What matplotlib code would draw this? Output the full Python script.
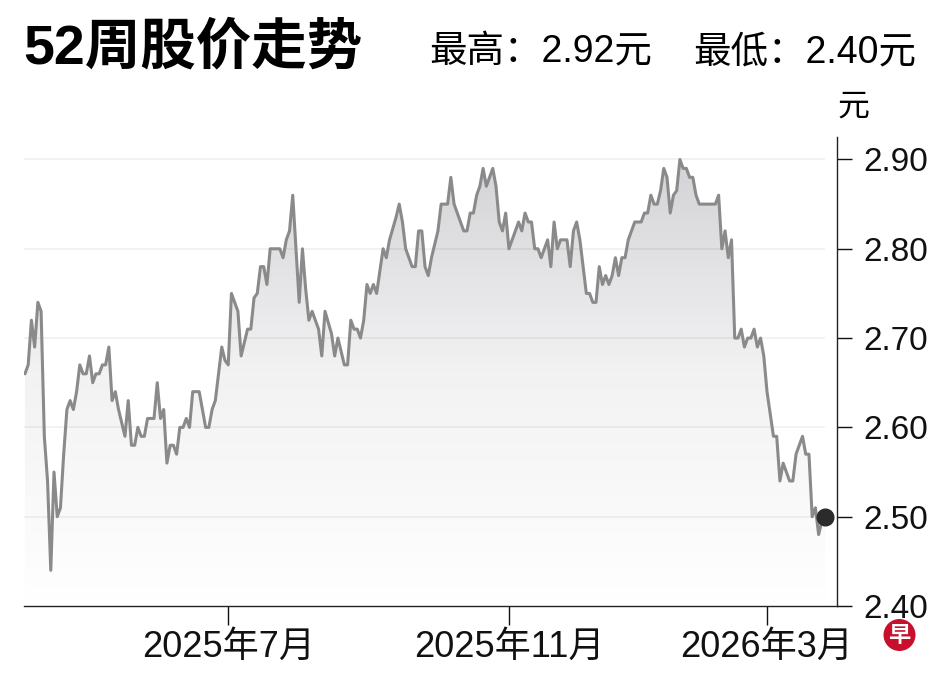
import matplotlib
matplotlib.use('Agg')
import matplotlib.pyplot as plt
from matplotlib.colors import LinearSegmentedColormap
from matplotlib.patches import Circle
import numpy as np

# trading-day index (0 = first day of the 52-week window) and closing price
day = [0, 1, 2, 3, 4, 5, 6, 7, 8, 9, 10, 11, 12, 13, 14, 15, 16, 17, 18, 19,
       20, 21, 22, 23, 24, 25, 26, 27, 28, 29, 31, 32, 33, 34, 35, 36, 37, 38,
       40, 41, 42, 43, 44, 45, 46, 47, 48, 49, 50, 51, 52, 54, 56, 57, 58, 59,
       60, 61, 62, 63, 64, 66, 67, 69, 70, 71, 72, 73, 74, 75, 76, 79, 80, 81,
       82, 83, 84, 85, 86, 87, 88, 89, 91, 92, 93, 95, 96, 97, 99, 100, 101,
       102, 103, 104, 105, 106, 107, 108, 109, 111, 112, 113, 115, 116, 117,
       118, 120, 121, 122, 123, 124, 125, 126, 128, 129, 131, 132, 133, 134,
       136, 137, 138, 139, 140, 141, 142, 143, 144, 145, 146, 147, 148, 149,
       150, 152, 153, 154, 155, 156, 157, 158, 159, 160, 162, 163, 164, 165,
       166, 168, 169, 170, 171, 172, 174, 175, 176, 177, 178, 179, 180, 181,
       182, 183, 184, 185, 186, 187, 189, 191, 192, 193, 194, 195, 196, 197,
       198, 199, 200, 201, 202, 203, 204, 205, 206, 207, 208, 209, 214, 215,
       216, 217, 218, 219, 220, 221, 222, 223, 224, 225, 226, 227, 228, 229,
       230, 232, 233, 234, 235, 237, 238, 239, 241, 242, 243, 244, 245, 246,
       247, 248]
price = [2.66, 2.67, 2.72, 2.69, 2.74, 2.73, 2.59, 2.54, 2.44, 2.55, 2.50, 2.51,
         2.57, 2.62, 2.63, 2.62, 2.64, 2.67, 2.66, 2.66, 2.68, 2.65, 2.66, 2.66,
         2.67, 2.67, 2.69, 2.63, 2.64, 2.62, 2.59, 2.63, 2.58, 2.58, 2.60, 2.59,
         2.59, 2.61, 2.61, 2.65, 2.61, 2.62, 2.56, 2.58, 2.58, 2.57, 2.60, 2.60,
         2.61, 2.60, 2.64, 2.64, 2.60, 2.60, 2.62, 2.63, 2.66, 2.69, 2.675, 2.67,
         2.75, 2.73, 2.68, 2.71, 2.71, 2.745, 2.75, 2.78, 2.78, 2.76, 2.80, 2.80,
         2.79, 2.81, 2.82, 2.86, 2.80, 2.74, 2.80, 2.755, 2.72, 2.73, 2.71, 2.68,
         2.73, 2.705, 2.68, 2.70, 2.67, 2.67, 2.72, 2.71, 2.71, 2.70, 2.72, 2.76,
         2.75, 2.76, 2.75, 2.80, 2.79, 2.81, 2.835, 2.85, 2.83, 2.80, 2.78, 2.78,
         2.82, 2.82, 2.78, 2.77, 2.79, 2.82, 2.85, 2.85, 2.88, 2.85, 2.84, 2.82,
         2.82, 2.84, 2.84, 2.86, 2.87, 2.89, 2.87, 2.88, 2.89, 2.87, 2.83, 2.82,
         2.84, 2.80, 2.82, 2.83, 2.82, 2.84, 2.83, 2.83, 2.80, 2.80, 2.79, 2.81,
         2.78, 2.83, 2.80, 2.81, 2.81, 2.78, 2.82, 2.83, 2.81, 2.75, 2.75, 2.74,
         2.74, 2.78, 2.76, 2.77, 2.76, 2.77, 2.79, 2.77, 2.79, 2.79, 2.81, 2.83,
         2.83, 2.84, 2.84, 2.86, 2.85, 2.85, 2.865, 2.89, 2.88, 2.84, 2.86, 2.865,
         2.90, 2.89, 2.89, 2.88, 2.88, 2.86, 2.85, 2.85, 2.86, 2.80, 2.82, 2.79,
         2.81, 2.70, 2.70, 2.71, 2.69, 2.70, 2.70, 2.71, 2.69, 2.70, 2.68, 2.64,
         2.59, 2.59, 2.54, 2.56, 2.54, 2.54, 2.57, 2.59, 2.57, 2.57, 2.50, 2.51,
         2.48, 2.495, 2.50]

tick_day = [63, 150, 230]
tick_labels = ['2025年7月', '2025年11月', '2026年3月']
yticks = [2.40, 2.50, 2.60, 2.70, 2.80, 2.90]
high_52w = 2.92
low_52w = 2.40

W, H = 948, 679
plt.rcParams['font.family'] = ['Liberation Sans', 'Noto Sans CJK SC']

fig = plt.figure(figsize=(W / 100, H / 100), dpi=100)
ax = fig.add_axes([24 / W, 1 - 606 / H, (836.7 - 24) / W, (606 - 136.7) / H])

y0, y1 = 2.40, 2.9255
x0, x1 = -0.3, 251.6

# gradient fill under the line
cmap = LinearSegmentedColormap.from_list('fade', ['#ffffff', '#f2f2f3', '#d0d0d4'])
grad = np.linspace(0, 1, 256).reshape(-1, 1)
im = ax.imshow(grad, extent=[x0, x1, y0, y1], origin='lower', aspect='auto',
               cmap=cmap, zorder=1)
poly = ax.fill_between(day, price, y0, facecolor='none', edgecolor='none')
im.set_clip_path(poly.get_paths()[0], ax.transData)

# grid
ax.hlines(yticks[1:], x0, day[-1], colors=(0, 0, 0, 0.06), linewidth=1.2, zorder=2)

ax.plot(day, price, color='#8a8a8a', linewidth=2.2, zorder=3,
        solid_joinstyle='round', solid_capstyle='round')
ax.plot(day[-1], price[-1], 'o', color='#2b2b2b', markersize=12, zorder=4)

ax.set_xlim(x0, x1)
ax.set_ylim(y0, y1)

ax.spines['left'].set_visible(False)
ax.spines['top'].set_visible(False)
for s in ['right', 'bottom']:
    ax.spines[s].set_color('#222222')
    ax.spines[s].set_linewidth(1.0)

ax.yaxis.tick_right()
ax.set_yticks(yticks)
ax.set_yticklabels(['%.2f' % v for v in yticks])
ax.tick_params(axis='y', length=11, width=1.0, pad=8, labelsize=24, colors='#111111')
ax.set_xticks(tick_day)
ax.set_xticklabels(tick_labels)
ax.tick_params(axis='x', length=14, width=1.0, pad=3, labelsize=26, colors='#111111')

# header
fig.text(23 / W, 1 - 49 / H, '52周股价走势', ha='left', va='center', fontsize=40,
         fontweight='bold', family=['Liberation Sans', 'Noto Sans CJK SC'])
fig.text(429 / W, 1 - 52 / H, '最高：%.2f元' % high_52w, ha='left', va='center', fontsize=27)
fig.text(693 / W, 1 - 52 / H, '最低：%.2f元' % low_52w, ha='left', va='center', fontsize=27)
fig.text(853 / W, 1 - 108 / H, '元', ha='center', va='center', fontsize=23)

# logo
fig.add_artist(Circle((8.995, (H - 635) / 100), 0.16, transform=fig.dpi_scale_trans,
                      facecolor='#c8102e', edgecolor='none'))
fig.text(899.5 / W, 1 - 635 / H, '早', ha='center', va='center', fontsize=16,
         color='white', fontweight='bold', family=['Noto Sans CJK SC'])

fig.savefig('out.png', dpi=100)
